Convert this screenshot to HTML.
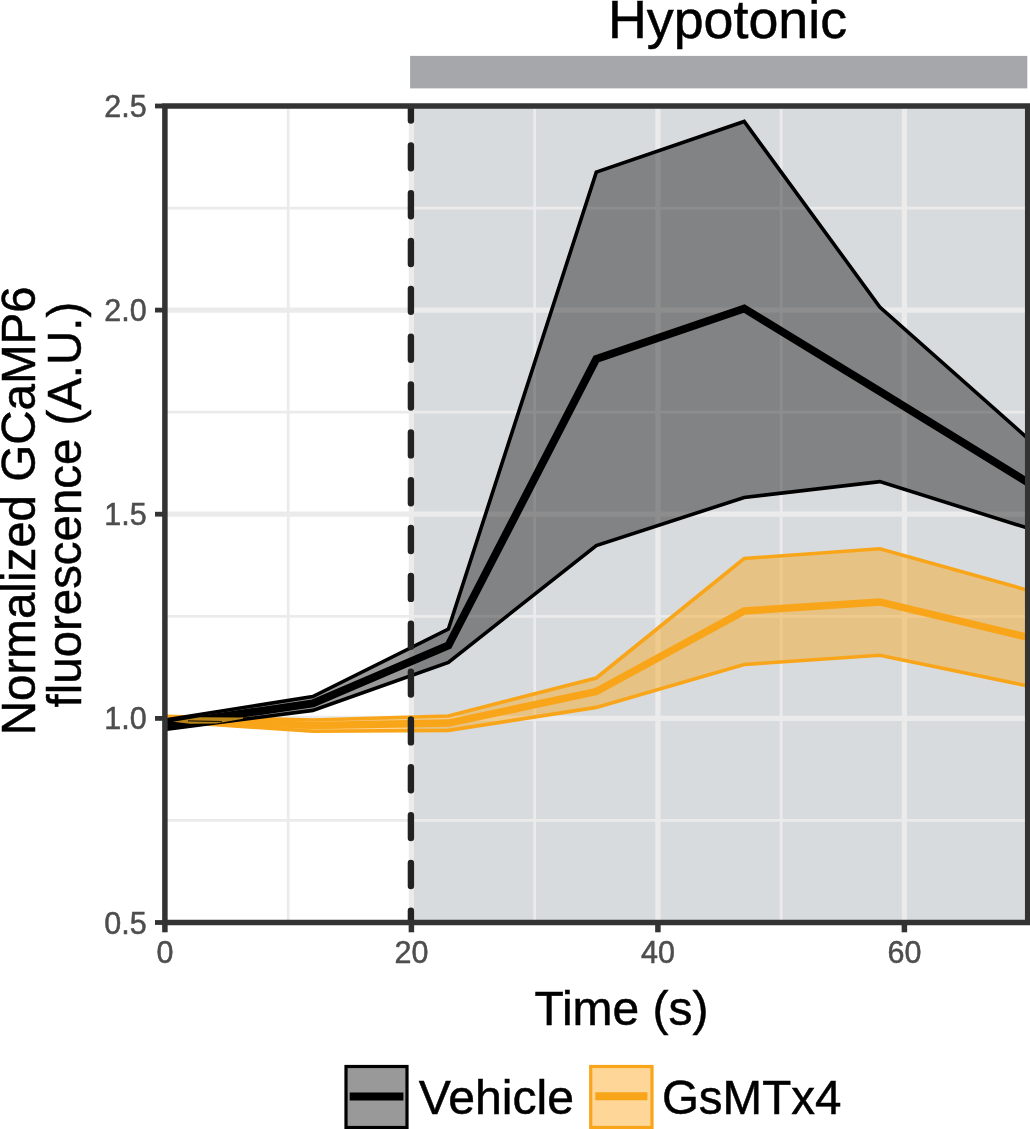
<!DOCTYPE html>
<html><head><meta charset="utf-8"><title>Hypotonic GCaMP6 fluorescence</title>
<style>html,body{margin:0;padding:0;background:#fff;}svg{display:block;will-change:transform;}text{font-family:"Liberation Sans",sans-serif;stroke-width:0.5px;paint-order:stroke fill;}</style>
</head><body>
<svg width="1030" height="1129" viewBox="0 0 1030 1129">
<rect x="0" y="0" width="1030" height="1129" fill="#ffffff"/>
<defs><clipPath id="panel"><rect x="164.9" y="106.0" width="862.8" height="816.5"/></clipPath></defs>
<rect x="410.1" y="55.9" width="617.2" height="32.5" fill="#a6a7aa"/>
<text x="607.9" y="38" font-size="53.8" fill="#000" stroke="#000">Hypotonic</text>
<g clip-path="url(#panel)">
<rect x="411.4" y="106.0" width="621.3" height="816.5" fill="#d8dbdd"/>
<line x1="164.9" x2="1027.7" y1="820.4" y2="820.4" stroke="#ebebeb" stroke-width="2.8"/>
<line x1="164.9" x2="1027.7" y1="616.3" y2="616.3" stroke="#ebebeb" stroke-width="2.8"/>
<line x1="164.9" x2="1027.7" y1="412.2" y2="412.2" stroke="#ebebeb" stroke-width="2.8"/>
<line x1="164.9" x2="1027.7" y1="208.1" y2="208.1" stroke="#ebebeb" stroke-width="2.8"/>
<line x1="288.2" x2="288.2" y1="106.0" y2="922.5" stroke="#ebebeb" stroke-width="2.8"/>
<line x1="534.7" x2="534.7" y1="106.0" y2="922.5" stroke="#ebebeb" stroke-width="2.8"/>
<line x1="781.2" x2="781.2" y1="106.0" y2="922.5" stroke="#ebebeb" stroke-width="2.8"/>
<line x1="164.9" x2="1027.7" y1="718.4" y2="718.4" stroke="#ebebeb" stroke-width="5.2"/>
<line x1="164.9" x2="1027.7" y1="514.2" y2="514.2" stroke="#ebebeb" stroke-width="5.2"/>
<line x1="164.9" x2="1027.7" y1="310.1" y2="310.1" stroke="#ebebeb" stroke-width="5.2"/>
<line x1="411.4" x2="411.4" y1="106.0" y2="922.5" stroke="#ebebeb" stroke-width="5.2"/>
<line x1="657.9" x2="657.9" y1="106.0" y2="922.5" stroke="#ebebeb" stroke-width="5.2"/>
<line x1="904.4" x2="904.4" y1="106.0" y2="922.5" stroke="#ebebeb" stroke-width="5.2"/>
<polygon points="164.9,716.3 312.8,720.0 448.4,716.0 596.3,678.0 744.2,558.5 879.8,548.7 1027.7,590.2 1027.7,685.9 879.8,655.2 744.2,664.5 596.3,707.4 448.4,730.4 312.8,731.2 164.9,721.2" fill="#f9a51a" fill-opacity="0.45" stroke="none"/>
<polyline points="164.9,716.3 312.8,720.0 448.4,716.0 596.3,678.0 744.2,558.5 879.8,548.7 1027.7,590.2" fill="none" stroke="#f9a51a" stroke-width="3.6" stroke-linejoin="miter"/>
<polyline points="164.9,721.2 312.8,731.2 448.4,730.4 596.3,707.4 744.2,664.5 879.8,655.2 1027.7,685.9" fill="none" stroke="#f9a51a" stroke-width="3.6" stroke-linejoin="miter"/>
<polyline points="164.9,718.8 312.8,725.5 448.4,723.0 596.3,691.6 744.2,611.0 879.8,602.0 1027.7,637.3" fill="none" stroke="#f9a51a" stroke-width="7.4" stroke-linejoin="miter"/>
<polygon points="164.9,720.0 312.8,696.5 448.4,629.0 596.3,172.1 744.2,121.5 879.8,307.0 1027.7,438.3 1027.7,528.1 879.8,481.6 744.2,497.5 596.3,545.5 448.4,662.4 312.8,710.4 164.9,729.4" fill="#000" fill-opacity="0.4" stroke="none"/>
<polyline points="164.9,720.0 312.8,696.5 448.4,629.0 596.3,172.1 744.2,121.5 879.8,307.0 1027.7,438.3" fill="none" stroke="#000" stroke-width="3.6" stroke-linejoin="miter"/>
<polyline points="164.9,729.4 312.8,710.4 448.4,662.4 596.3,545.5 744.2,497.5 879.8,481.6 1027.7,528.1" fill="none" stroke="#000" stroke-width="3.6" stroke-linejoin="miter"/>
<polyline points="164.9,724.9 312.8,703.3 448.4,645.5 596.3,359.0 744.2,308.5 879.8,391.4 1027.7,482.4" fill="none" stroke="#000" stroke-width="7.9" stroke-linejoin="miter"/>
<polygon points="173,721.7 200,717.2 243,717.4 243,718.8 216,723.5 190,723.8" fill="#b98519"/>
<line x1="188" y1="720.9" x2="222" y2="721.6" stroke="#2a1e06" stroke-width="1.2"/>
<line x1="410.9" x2="410.9" y1="97.5" y2="940" stroke="#222" stroke-width="6.4" stroke-linecap="round" stroke-dasharray="23 24.84"/>
</g>
<rect x="164.90" y="106.00" width="862.80" height="816.50" fill="none" stroke="#333" stroke-width="5.5"/>
<line x1="155" x2="163" y1="922.5" y2="922.5" stroke="#333" stroke-width="4.8"/>
<line x1="155" x2="163" y1="718.4" y2="718.4" stroke="#333" stroke-width="4.8"/>
<line x1="155" x2="163" y1="514.2" y2="514.2" stroke="#333" stroke-width="4.8"/>
<line x1="155" x2="163" y1="310.1" y2="310.1" stroke="#333" stroke-width="4.8"/>
<line x1="155" x2="163" y1="106.0" y2="106.0" stroke="#333" stroke-width="4.8"/>
<line x1="164.9" x2="164.9" y1="924" y2="932.3" stroke="#333" stroke-width="5.5"/>
<line x1="411.4" x2="411.4" y1="924" y2="932.3" stroke="#333" stroke-width="5.5"/>
<line x1="657.9" x2="657.9" y1="924" y2="932.3" stroke="#333" stroke-width="5.5"/>
<line x1="904.4" x2="904.4" y1="924" y2="932.3" stroke="#333" stroke-width="5.5"/>
<text transform="translate(146.6,933.5) scale(1,1.03)" font-size="30.5" fill="#4d4d4d" stroke="#4d4d4d" text-anchor="end">0.5</text>
<text transform="translate(146.6,729.4) scale(1,1.03)" font-size="30.5" fill="#4d4d4d" stroke="#4d4d4d" text-anchor="end">1.0</text>
<text transform="translate(146.6,525.2) scale(1,1.03)" font-size="30.5" fill="#4d4d4d" stroke="#4d4d4d" text-anchor="end">1.5</text>
<text transform="translate(146.6,321.1) scale(1,1.03)" font-size="30.5" fill="#4d4d4d" stroke="#4d4d4d" text-anchor="end">2.0</text>
<text transform="translate(146.6,117.0) scale(1,1.03)" font-size="30.5" fill="#4d4d4d" stroke="#4d4d4d" text-anchor="end">2.5</text>
<text transform="translate(164.9,963) scale(1,1.03)" font-size="30.5" fill="#4d4d4d" stroke="#4d4d4d" text-anchor="middle">0</text>
<text transform="translate(411.4,963) scale(1,1.03)" font-size="30.5" fill="#4d4d4d" stroke="#4d4d4d" text-anchor="middle">20</text>
<text transform="translate(657.9,963) scale(1,1.03)" font-size="30.5" fill="#4d4d4d" stroke="#4d4d4d" text-anchor="middle">40</text>
<text transform="translate(904.4,963) scale(1,1.03)" font-size="30.5" fill="#4d4d4d" stroke="#4d4d4d" text-anchor="middle">60</text>
<text x="534.4" y="1025.1" font-size="48" fill="#000" stroke="#000">Time (s)</text>
<text transform="translate(35.2,735.2) rotate(-90)" font-size="47.5" fill="#000" stroke="#000">Normalized GCaMP6</text>
<text transform="translate(81,707.4) rotate(-90)" font-size="47.4" fill="#000" stroke="#000">fluorescence (A.U.)</text>
<rect x="346" y="1066.5" width="61" height="61" fill="#999999" stroke="#000" stroke-width="3.2"/>
<line x1="349.7" x2="403.4" y1="1096.6" y2="1096.6" stroke="#000" stroke-width="8"/>
<text x="418.7" y="1113.6" font-size="48.2" fill="#000" stroke="#000">Vehicle</text>
<rect x="590.7" y="1066.5" width="61.3" height="61" fill="#fdd698" stroke="#f9a51a" stroke-width="3.2"/>
<line x1="595.3" x2="647.4" y1="1096.3" y2="1096.3" stroke="#f9a51a" stroke-width="8"/>
<text x="661.9" y="1113.8" font-size="47.5" fill="#000" stroke="#000">GsMTx4</text>
</svg>
</body></html>
